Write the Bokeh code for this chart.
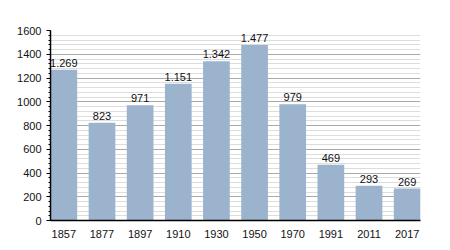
from bokeh.plotting import figure
from bokeh.models import ColumnDataSource, FixedTicker, Range1d, LabelSet
from bokeh.core.properties import value
from bokeh.embed import file_html
from bokeh.resources import INLINE

years = ["1857", "1877", "1897", "1910", "1930", "1950", "1970", "1991", "2011", "2017"]
population = [1269, 823, 971, 1151, 1342, 1477, 979, 469, 293, 269]
labels = ["1.269", "823", "971", "1.151", "1.342", "1.477", "979", "469", "293", "269"]

xs = list(range(len(years)))
src = ColumnDataSource(dict(x=xs, y=population, lab=labels))

p = figure(width=450, height=250, output_backend="svg", toolbar_location=None,
           x_range=Range1d(-0.35, len(years) - 1 + 0.35), y_range=Range1d(0, 1600),
           min_border_left=50, min_border_right=30, min_border_top=30, min_border_bottom=30)
p.background_fill_color = "white"
p.outline_line_color = None

p.vbar(x="x", top="y", width=0.7, source=src, fill_color="#9bb3cd", line_color=None)

p.add_layout(LabelSet(x="x", y="y", text="lab", source=src, text_align="center",
                      text_baseline="bottom", y_offset=3, text_font=value("Liberation Sans"),
                      text_font_size=value("11px"), text_color="#111111"))

p.xaxis.ticker = FixedTicker(ticks=xs)
p.xaxis.major_label_overrides = {i: y for i, y in enumerate(years)}
p.xaxis.major_tick_line_color = None
p.xaxis.minor_tick_line_color = None
p.xaxis.axis_line_color = "black"
p.xaxis.axis_line_width = 1.5
p.xaxis.major_label_text_font = "Liberation Sans"
p.xaxis.major_label_text_font_size = "11px"
p.xaxis.major_label_text_color = "#111111"
p.xaxis.major_label_standoff = 3

yt = FixedTicker(ticks=list(range(0, 1601, 200)), minor_ticks=list(range(0, 1601, 40)))
p.yaxis.ticker = yt
p.yaxis.axis_line_color = "black"
p.yaxis.axis_line_width = 1.5
p.yaxis.major_tick_in = 0
p.yaxis.major_tick_out = 4
p.yaxis.minor_tick_in = 0
p.yaxis.minor_tick_out = 2
p.yaxis.major_label_text_font = "Liberation Sans"
p.yaxis.major_label_text_font_size = "11px"
p.yaxis.major_label_text_color = "#111111"
p.yaxis.major_label_standoff = 5

p.xgrid.grid_line_color = None
p.ygrid.ticker = yt
p.ygrid.grid_line_color = "#aaaaaa"
p.ygrid.grid_line_width = 1
p.ygrid.minor_grid_line_color = "#dddddd"
p.ygrid.level = "underlay"

open("out.html", "w").write(file_html(p, INLINE))
